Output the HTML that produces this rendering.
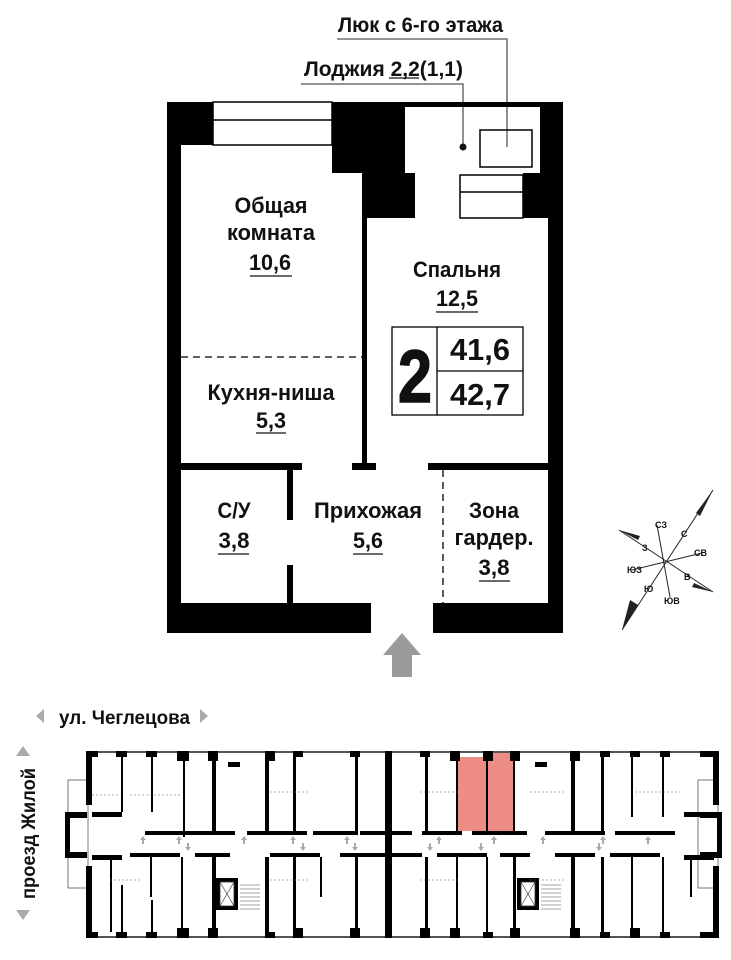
<!DOCTYPE html>
<html><head><meta charset="utf-8"><style>
html,body{margin:0;padding:0;background:#fff;}
svg{display:block;}
text{font-family:"Liberation Sans",sans-serif;font-weight:bold;fill:#111;}
</style></head><body>
<svg width="731" height="960" viewBox="0 0 731 960" xmlns="http://www.w3.org/2000/svg">
<!-- leader labels -->
<text x="338" y="32" font-size="21" textLength="165" lengthAdjust="spacingAndGlyphs">Люк с 6-го этажа</text>
<polyline points="337,39 507,39 507,147" fill="none" stroke="#555" stroke-width="1.3"/>
<text x="304" y="76" font-size="21" textLength="159" lengthAdjust="spacingAndGlyphs">Лоджия 2,2(1,1)</text>
<line x1="389" y1="78" x2="419" y2="78" stroke="#111" stroke-width="1.3"/>
<polyline points="301,84 463,84 463,147" fill="none" stroke="#555" stroke-width="1.3"/>
<circle cx="463" cy="147" r="3.5" fill="#111"/>

<!-- outer walls -->
<rect x="167" y="102" width="14" height="531" fill="#000"/>
<rect x="548" y="102" width="15" height="531" fill="#000"/>
<rect x="167" y="102" width="46" height="43" fill="#000"/>
<rect x="332" y="102" width="73" height="71" fill="#000"/>
<rect x="362" y="173" width="53" height="45" fill="#000"/>
<rect x="405" y="102" width="158" height="5" fill="#000"/>
<rect x="540" y="102" width="23" height="71" fill="#000"/>
<rect x="523" y="173" width="40" height="45" fill="#000"/>
<!-- windows -->
<rect x="213" y="102" width="119" height="43" fill="#fff" stroke="#000" stroke-width="1.5"/>
<line x1="213" y1="120" x2="332" y2="120" stroke="#000" stroke-width="1.5"/>
<rect x="460" y="175" width="63" height="43" fill="#fff" stroke="#000" stroke-width="1.5"/>
<line x1="460" y1="192" x2="523" y2="192" stroke="#000" stroke-width="1.5"/>
<rect x="480" y="130" width="52" height="37" fill="none" stroke="#000" stroke-width="1.5"/>
<!-- interior walls -->
<rect x="362" y="145" width="5" height="318" fill="#000"/>
<rect x="181" y="463" width="121" height="7" fill="#000"/>
<rect x="352" y="463" width="24" height="7" fill="#000"/>
<rect x="428" y="463" width="120" height="7" fill="#000"/>
<rect x="287" y="470" width="6" height="50" fill="#000"/>
<rect x="287" y="565" width="6" height="38" fill="#000"/>
<line x1="181" y1="357" x2="362" y2="357" stroke="#000" stroke-width="1.3" stroke-dasharray="7,5"/>
<line x1="443" y1="470" x2="443" y2="603" stroke="#000" stroke-width="1.3" stroke-dasharray="7,5"/>
<!-- bottom wall -->
<rect x="167" y="603" width="204" height="30" fill="#000"/>
<rect x="433" y="603" width="130" height="30" fill="#000"/>
<!-- entry arrow -->
<polygon points="402,633 421,655 412,655 412,677 392,677 392,655 383,655" fill="#9b9b9b"/>

<!-- room labels -->
<g font-size="22" text-anchor="middle" lengthAdjust="spacingAndGlyphs">
<text x="271" y="213" textLength="73" lengthAdjust="spacingAndGlyphs">Общая</text>
<text x="271" y="240" textLength="88" lengthAdjust="spacingAndGlyphs">комната</text>
<text x="270" y="270" textLength="42" lengthAdjust="spacingAndGlyphs">10,6</text>
<text x="457" y="277" textLength="88" lengthAdjust="spacingAndGlyphs">Спальня</text>
<text x="457" y="306" textLength="42" lengthAdjust="spacingAndGlyphs">12,5</text>
<text x="271" y="400" textLength="127" lengthAdjust="spacingAndGlyphs">Кухня-ниша</text>
<text x="271" y="428" textLength="30" lengthAdjust="spacingAndGlyphs">5,3</text>
<text x="234" y="518" textLength="33" lengthAdjust="spacingAndGlyphs">С/У</text>
<text x="234" y="548" textLength="31" lengthAdjust="spacingAndGlyphs">3,8</text>
<text x="368" y="518" textLength="108" lengthAdjust="spacingAndGlyphs">Прихожая</text>
<text x="368" y="548" textLength="30" lengthAdjust="spacingAndGlyphs">5,6</text>
<text x="494" y="518" textLength="50" lengthAdjust="spacingAndGlyphs">Зона</text>
<text x="494" y="545" textLength="79" lengthAdjust="spacingAndGlyphs">гардер.</text>
<text x="494" y="575" textLength="31" lengthAdjust="spacingAndGlyphs">3,8</text>
</g>
<g stroke="#111" stroke-width="1.3">
<line x1="250" y1="276" x2="292" y2="276"/>
<line x1="436" y1="312" x2="478" y2="312"/>
<line x1="256" y1="433" x2="286" y2="433"/>
<line x1="218" y1="554" x2="249" y2="554"/>
<line x1="353" y1="554" x2="383" y2="554"/>
<line x1="479" y1="581" x2="510" y2="581"/>
</g>
<!-- area box -->
<rect x="392" y="327" width="131" height="88" fill="#fff" stroke="#000" stroke-width="1.3"/>
<line x1="437" y1="327" x2="437" y2="415" stroke="#000" stroke-width="1.3"/>
<line x1="437" y1="371" x2="523" y2="371" stroke="#000" stroke-width="1.3"/>
<text x="415" y="402" font-size="74" text-anchor="middle" textLength="34" lengthAdjust="spacingAndGlyphs" stroke="#111" stroke-width="1.5">2</text>
<text x="480" y="360" font-size="31" text-anchor="middle" textLength="60" lengthAdjust="spacingAndGlyphs">41,6</text>
<text x="480" y="405" font-size="31" text-anchor="middle" textLength="60" lengthAdjust="spacingAndGlyphs">42,7</text>

<!-- compass -->
<g stroke="#222" stroke-width="1">
<line x1="622" y1="630" x2="713" y2="490"/>
<line x1="619" y1="530" x2="713" y2="592"/>
<line x1="657" y1="525" x2="670" y2="597"/>
<line x1="632" y1="570" x2="702" y2="553"/>
</g>
<polygon points="713,490 700,516 696,513" fill="#222"/>
<polygon points="622,630 630,600 638,605" fill="#222"/>
<polygon points="619,530 640,536 638,540" fill="#222"/>
<polygon points="713,592 692,587 694,583" fill="#222"/>
<g font-size="9" font-weight="normal" fill="#222">
<text x="655" y="528">СЗ</text>
<text x="681" y="537">С</text>
<text x="642" y="551">З</text>
<text x="694" y="556">СВ</text>
<text x="627" y="573">ЮЗ</text>
<text x="684" y="580">В</text>
<text x="644" y="592">Ю</text>
<text x="664" y="604">ЮВ</text>
</g>

<!-- street labels -->
<polygon points="36,709 44,716 36,723" fill="#aaa" transform="rotate(180 40 716)"/>
<text x="59" y="724" font-size="19" textLength="131" lengthAdjust="spacingAndGlyphs">ул. Чеглецова</text>
<polygon points="200,709 208,716 200,723" fill="#aaa"/>
<polygon points="23,746 30,756 16,756" fill="#aaa"/>
<polygon points="16,910 30,910 23,920" fill="#aaa"/>
<text transform="translate(35,899) rotate(-90)" font-size="19" textLength="131" lengthAdjust="spacingAndGlyphs">проезд Жилой</text>

<!-- building plan -->
<g>
<rect x="458" y="757" width="55" height="74" fill="#ee8d84"/>
<rect x="490" y="751" width="23" height="8" fill="#ee8d84"/>
<rect x="68" y="780" width="20" height="108" fill="none" stroke="#555" stroke-width="0.8"/>
<rect x="698" y="780" width="20" height="108" fill="none" stroke="#555" stroke-width="0.8"/>
<rect x="65" y="812" width="22" height="6" fill="#000"/>
<rect x="65" y="852" width="22" height="6" fill="#000"/>
<rect x="65" y="812" width="5" height="46" fill="#000"/>
<rect x="700" y="812" width="22" height="6" fill="#000"/>
<rect x="700" y="852" width="22" height="6" fill="#000"/>
<rect x="717" y="812" width="5" height="46" fill="#000"/>
<rect x="86" y="751" width="632" height="2" fill="#555"/>
<rect x="86" y="936" width="632" height="2" fill="#555"/>
<g fill="#000">
<rect x="86" y="751" width="6" height="54"/><rect x="86" y="866" width="6" height="72"/>
<rect x="713" y="751" width="6" height="54"/><rect x="713" y="866" width="6" height="72"/>
<rect x="86" y="751" width="12" height="6"/><rect x="116" y="751" width="11" height="6"/><rect x="146" y="751" width="11" height="6"/><rect x="177" y="751" width="12" height="10"/>
<rect x="208" y="751" width="10" height="10"/><rect x="265" y="751" width="10" height="10"/><rect x="293" y="751" width="10" height="6"/><rect x="350" y="751" width="10" height="6"/>
<rect x="385" y="751" width="7" height="187"/>
<rect x="420" y="751" width="10" height="6"/><rect x="450" y="751" width="10" height="10"/><rect x="483" y="751" width="10" height="10"/><rect x="510" y="751" width="10" height="10"/>
<rect x="570" y="751" width="10" height="10"/><rect x="600" y="751" width="10" height="6"/><rect x="630" y="751" width="10" height="6"/><rect x="660" y="751" width="10" height="6"/><rect x="700" y="751" width="18" height="6"/>
<rect x="228" y="762" width="12" height="5"/><rect x="535" y="762" width="12" height="5"/>
<rect x="86" y="932" width="12" height="6"/><rect x="116" y="932" width="11" height="6"/><rect x="146" y="932" width="11" height="6"/><rect x="177" y="928" width="12" height="10"/><rect x="208" y="928" width="10" height="10"/>
<rect x="265" y="932" width="10" height="6"/><rect x="293" y="928" width="10" height="10"/><rect x="350" y="928" width="10" height="10"/>
<rect x="420" y="928" width="10" height="10"/><rect x="450" y="928" width="10" height="10"/><rect x="483" y="932" width="10" height="6"/><rect x="510" y="928" width="10" height="10"/><rect x="570" y="928" width="10" height="10"/>
<rect x="600" y="932" width="10" height="6"/><rect x="630" y="928" width="10" height="10"/><rect x="660" y="932" width="10" height="6"/><rect x="700" y="932" width="18" height="6"/>
<rect x="145" y="831" width="40" height="4"/><rect x="185" y="831" width="50" height="4"/><rect x="247" y="831" width="60" height="4"/><rect x="313" y="831" width="45" height="4"/><rect x="360" y="831" width="25" height="4"/>
<rect x="392" y="831" width="20" height="4"/><rect x="422" y="831" width="40" height="4"/><rect x="472" y="831" width="55" height="4"/><rect x="545" y="831" width="60" height="4"/><rect x="615" y="831" width="60" height="4"/>
<rect x="130" y="853" width="50" height="4"/><rect x="195" y="853" width="35" height="4"/><rect x="270" y="853" width="50" height="4"/><rect x="340" y="853" width="45" height="4"/>
<rect x="392" y="853" width="30" height="4"/><rect x="437" y="853" width="50" height="4"/><rect x="500" y="853" width="30" height="4"/><rect x="555" y="853" width="40" height="4"/><rect x="610" y="853" width="50" height="4"/>
<rect x="92" y="812" width="30" height="5"/><rect x="92" y="855" width="30" height="5"/><rect x="684" y="812" width="30" height="5"/><rect x="684" y="855" width="30" height="5"/>
<rect x="121" y="757" width="2" height="55"/><rect x="151" y="757" width="2" height="55"/><rect x="183" y="757" width="2" height="80"/><rect x="212" y="757" width="4" height="76"/>
<rect x="265" y="757" width="4" height="76"/><rect x="293" y="757" width="3" height="76"/><rect x="355" y="757" width="3" height="76"/>
<rect x="425" y="757" width="3" height="76"/><rect x="456" y="757" width="2" height="76"/><rect x="486" y="757" width="2" height="76"/><rect x="513" y="757" width="2" height="76"/>
<rect x="571" y="757" width="4" height="76"/><rect x="601" y="757" width="3" height="76"/><rect x="631" y="757" width="2" height="60"/><rect x="662" y="757" width="2" height="60"/>
<rect x="110" y="857" width="2" height="75"/><rect x="121" y="885" width="2" height="47"/><rect x="150" y="857" width="2" height="40"/><rect x="151" y="900" width="2" height="32"/><rect x="181" y="857" width="2" height="75"/>
<rect x="212" y="857" width="4" height="75"/><rect x="265" y="857" width="4" height="75"/><rect x="293" y="857" width="3" height="75"/><rect x="320" y="857" width="2" height="40"/><rect x="355" y="857" width="3" height="75"/>
<rect x="425" y="857" width="3" height="75"/><rect x="456" y="857" width="2" height="75"/><rect x="486" y="857" width="2" height="75"/><rect x="513" y="857" width="3" height="75"/>
<rect x="571" y="857" width="4" height="75"/><rect x="601" y="857" width="3" height="75"/><rect x="631" y="857" width="2" height="75"/><rect x="662" y="857" width="2" height="75"/><rect x="690" y="857" width="2" height="40"/>
<rect x="216" y="878" width="22" height="32"/><rect x="517" y="878" width="22" height="32"/>
</g>
<rect x="220" y="882" width="14" height="24" fill="#fff" stroke="#333" stroke-width="0.8"/>
<line x1="220" y1="882" x2="234" y2="906" stroke="#333" stroke-width="0.6"/><line x1="234" y1="882" x2="220" y2="906" stroke="#333" stroke-width="0.6"/>
<rect x="521" y="882" width="14" height="24" fill="#fff" stroke="#333" stroke-width="0.8"/>
<line x1="521" y1="882" x2="535" y2="906" stroke="#333" stroke-width="0.6"/><line x1="535" y1="882" x2="521" y2="906" stroke="#333" stroke-width="0.6"/>
<g stroke="#444" stroke-width="0.5">
<path d="M240 885h20M240 889h20M240 893h20M240 897h20M240 901h20M240 905h20M240 909h20"/>
<path d="M541 885h20M541 889h20M541 893h20M541 897h20M541 901h20M541 905h20M541 909h20"/>
</g>
<g stroke="#666" stroke-width="0.6" stroke-dasharray="2,2" fill="none">
<path d="M92 795h30M130 795h50M270 792h40M420 792h40M530 792h35M635 792h45"/>
<path d="M110 880h30M270 880h40M420 880h40M530 880h35"/>
</g>
<g fill="#aaa">
<path d="M140 840l3 -4 3 4h-2v4h-2v-4z"/><path d="M176 840l3 -4 3 4h-2v4h-2v-4z"/><path d="M241 840l3 -4 3 4h-2v4h-2v-4z"/><path d="M290 840l3 -4 3 4h-2v4h-2v-4z"/><path d="M344 840l3 -4 3 4h-2v4h-2v-4z"/>
<path d="M436 840l3 -4 3 4h-2v4h-2v-4z"/><path d="M491 840l3 -4 3 4h-2v4h-2v-4z"/><path d="M540 840l3 -4 3 4h-2v4h-2v-4z"/><path d="M600 840l3 -4 3 4h-2v4h-2v-4z"/><path d="M645 840l3 -4 3 4h-2v4h-2v-4z"/>
<path d="M185 847l3 4 3 -4h-2v-4h-2v4z"/><path d="M300 847l3 4 3 -4h-2v-4h-2v4z"/><path d="M352 847l3 4 3 -4h-2v-4h-2v4z"/><path d="M427 847l3 4 3 -4h-2v-4h-2v4z"/><path d="M478 847l3 4 3 -4h-2v-4h-2v4z"/><path d="M596 847l3 4 3 -4h-2v-4h-2v4z"/>
</g>
</g>
</svg>
</body></html>
